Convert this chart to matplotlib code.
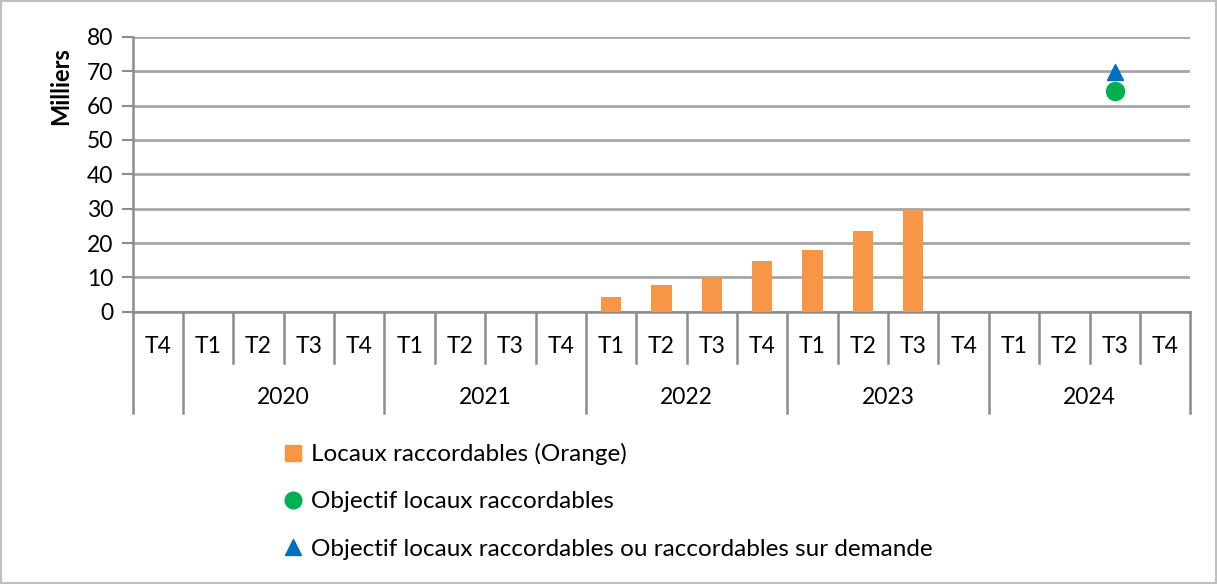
import numpy as np
import matplotlib
matplotlib.use("Agg")
import matplotlib.pyplot as plt
from matplotlib.lines import Line2D
from matplotlib.patches import Rectangle
import matplotlib.transforms as mtransforms

plt.rcParams["font.family"] = ["Lato", "DejaVu Sans"]

# Data (thousands)
quarters = ["T4", "T1", "T2", "T3", "T4", "T1", "T2", "T3", "T4",
            "T1", "T2", "T3", "T4", "T1", "T2", "T3", "T4",
            "T1", "T2", "T3", "T4"]
years = ["2020", "2021", "2022", "2023", "2024"]
year_start = [1, 5, 9, 13, 17]
raccordables = [np.nan] * 9 + [4.45, 7.8, 10.2, 14.9, 17.9, 23.6, 29.7] + [np.nan] * 5
objectif = [np.nan] * 19 + [64.2, np.nan]
objectif_demande = [np.nan] * 19 + [69.8, np.nan]

ORANGE = "#F79646"
GREEN = "#00B050"
BLUE = "#0070C0"
GRID = "#A6A6A6"
FS = 16.5

fig = plt.figure(figsize=(12.17, 5.84), dpi=100)
ax = fig.add_axes([0.109, 0.466, 0.869, 0.471])

x = np.arange(len(quarters))
ax.bar(x, raccordables, width=0.4, color=ORANGE, zorder=3)
ax.plot(x, objectif, "o", color=GREEN, markersize=13, zorder=4, linestyle="none")
ax.plot(x, objectif_demande, "^", color=BLUE, markersize=12, zorder=4, linestyle="none")

ax.set_xlim(-0.5, len(quarters) - 0.5)
ax.set_ylim(0, 80)
ax.set_yticks(np.arange(0, 81, 10))
ax.yaxis.grid(True, color=GRID, linewidth=2)
ax.set_axisbelow(True)
ax.set_xticks([])
for s in ["top", "right"]:
    ax.spines[s].set_visible(False)
ax.spines["left"].set_color("#8C8C8C")
ax.spines["left"].set_linewidth(1.8)
ax.spines["bottom"].set_color("#8C8C8C")
ax.spines["bottom"].set_linewidth(1.8)
ax.tick_params(axis="y", direction="out", length=8, width=1.5, color="#8C8C8C",
               labelsize=FS, pad=6)
ax.set_ylabel("Milliers", fontsize=17, fontweight="bold")
ax.yaxis.set_label_coords(-0.057, 0.82)

# Two-level category axis
trans = mtransforms.blended_transform_factory(ax.transData, ax.transAxes)
row1 = -0.185
row2 = -0.367
for i in range(len(quarters) + 1):
    b = i - 0.5
    long_line = (i == 0) or (i in year_start) or (i == len(quarters))
    y_end = row2 if long_line else row1
    ax.plot([b, b], [0, y_end], color="#8C8C8C", linewidth=1.8,
            transform=trans, clip_on=False)
for i, q in enumerate(quarters):
    ax.text(i, -0.127, q, transform=trans, ha="center", va="center", fontsize=FS)
for ys, yr in zip(year_start, years):
    ax.text(ys + 1.5, -0.313, yr, transform=trans, ha="center", va="center", fontsize=FS)

# Legend
handles = [
    Line2D([], [], marker="s", color=ORANGE, linestyle="none", markersize=11),
    Line2D([], [], marker="o", color=GREEN, linestyle="none", markersize=12),
    Line2D([], [], marker="^", color=BLUE, linestyle="none", markersize=11),
]
labels = ["Locaux raccordables (Orange)", "Objectif locaux raccordables",
          "Objectif locaux raccordables ou raccordables sur demande"]
fig.legend(handles, labels, loc="upper left", bbox_to_anchor=(0.225, 0.258),
           frameon=False, fontsize=17.5, labelspacing=1.08, handlelength=0.8,
           handletextpad=0.35, borderaxespad=0)

# Outer frame
fig.patches.append(Rectangle((0.001, 0.001), 0.998, 0.998, transform=fig.transFigure,
                             fill=False, edgecolor="#BFBFBF", linewidth=1.5))

fig.savefig("out.png", dpi=100)
